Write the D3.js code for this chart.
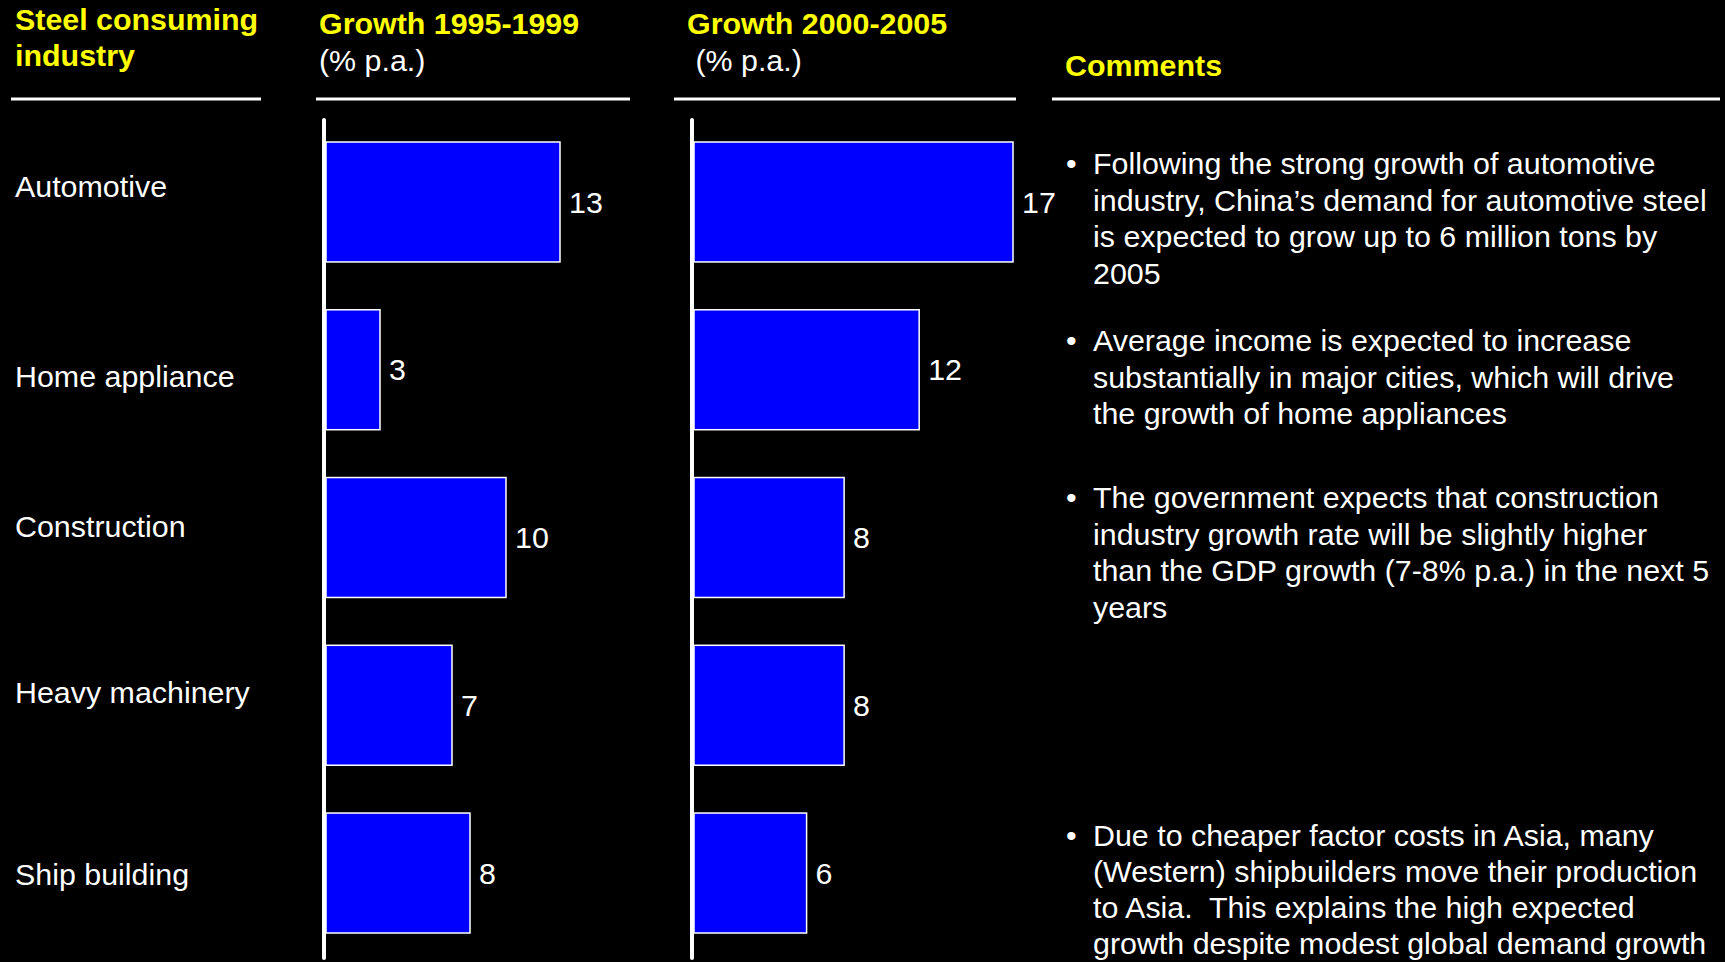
<!DOCTYPE html>
<html>
<head>
<meta charset="utf-8">
<script src="https://cdn.jsdelivr.net/npm/d3@7"></script>
<style>
  html, body { margin: 0; padding: 0; background: #000; }
  svg { display: block; }
  text { font-family: "Liberation Sans", Arial, sans-serif; white-space: pre; }
</style>
</head>
<body>
<svg id="chart" width="1725" height="962"></svg>
<script>
// ---- data ----
const categories = ["Automotive", "Home appliance", "Construction", "Heavy machinery", "Ship building"];
const growth1995_1999 = [13, 3, 10, 7, 8];
const growth2000_2005 = [17, 12, 8, 8, 6];
const headerIndustry = ["Steel consuming", "industry"];
const headerPeriod1 = "Growth 1995-1999";
const headerPeriod2 = "Growth 2000-2005";
const headerUnit1 = "(% p.a.)";
const headerUnit2 = " (% p.a.)";
const headerComments = "Comments";
const comments = [
  ["Following the strong growth of automotive",
   "industry, China\u2019s demand for automotive steel",
   "is expected to grow up to 6 million tons by",
   "2005"],
  ["Average income is expected to increase",
   "substantially in major cities, which will drive",
   "the growth of home appliances"],
  ["The government expects that construction",
   "industry growth rate will be slightly higher",
   "than the GDP growth (7-8% p.a.) in the next 5",
   "years"],
  ["Due to cheaper factor costs in Asia, many",
   "(Western) shipbuilders move their production",
   "to Asia.  This explains the high expected",
   "growth despite modest global demand growth"]
];

// ---- layout ----
const YELLOW = "#FFFF00", WHITE = "#FFFFFF", BLUE = "#0000FF";
const FS = 30.4;
const svg = d3.select("#chart");

const y = d3.scaleBand()
  .domain(categories)
  .range([142, 933])
  .paddingInner(0.285)
  .paddingOuter(0);

const x1 = d3.scaleLinear().domain([0, 13]).range([326, 560]);
const x2 = d3.scaleLinear().domain([0, 17]).range([694, 1013]);

// baseline offsets of the row labels from their band centres
const rowLabelDy = [-5, 17, -0.5, -2, 12];
// first-line baselines of the comment blocks and their line spacing
const commentBaselines = [174, 351, 508, 846];
const commentLeading = [36.5, 36.5, 36.5, 36];

// ---- headers ----
svg.append("g").selectAll("text")
  .data(headerIndustry)
  .join("text")
  .attr("x", 15).attr("y", (d, i) => 30 + i * 36)
  .attr("fill", YELLOW).attr("font-weight", "bold").attr("font-size", FS)
  .text(d => d);

const headerDefs = [
  { title: headerPeriod1, unit: headerUnit1, x: 319 },
  { title: headerPeriod2, unit: headerUnit2, x: 687 }
];
headerDefs.forEach(h => {
  svg.append("text").attr("x", h.x).attr("y", 34)
    .attr("fill", YELLOW).attr("font-weight", "bold").attr("font-size", FS)
    .text(h.title);
  svg.append("text").attr("x", h.x).attr("y", 71)
    .attr("fill", WHITE).attr("font-size", FS)
    .text(h.unit);
});
svg.append("text").attr("x", 1065).attr("y", 76)
  .attr("fill", YELLOW).attr("font-weight", "bold").attr("font-size", FS)
  .text(headerComments);

// header rules
const rules = [[11, 261], [316, 630], [674, 1016], [1052, 1720]];
svg.append("g").selectAll("line")
  .data(rules)
  .join("line")
  .attr("x1", d => d[0]).attr("x2", d => d[1])
  .attr("y1", 99).attr("y2", 99)
  .attr("stroke", WHITE).attr("stroke-width", 3);

// ---- row labels ----
svg.append("g").selectAll("text")
  .data(categories)
  .join("text")
  .attr("x", 15)
  .attr("y", (d, i) => y(d) + y.bandwidth() / 2 + rowLabelDy[i])
  .attr("fill", WHITE).attr("font-size", FS)
  .text(d => d);

// ---- bar panels ----
function panel(values, x) {
  const g = svg.append("g");
  const data = categories.map((c, i) => ({ c, v: values[i] }));
  g.selectAll("rect")
    .data(data)
    .join("rect")
    .attr("x", x(0))
    .attr("y", d => y(d.c))
    .attr("width", d => x(d.v) - x(0))
    .attr("height", y.bandwidth())
    .attr("fill", BLUE)
    .attr("stroke", WHITE)
    .attr("stroke-width", 1.5);
  g.selectAll("text")
    .data(data)
    .join("text")
    .attr("x", d => x(d.v) + 9)
    .attr("y", d => y(d.c) + y.bandwidth() / 2)
    .attr("dy", "0.35em")
    .attr("fill", WHITE).attr("font-size", FS)
    .text(d => d.v);
  // baseline axis
  g.append("line")
    .attr("x1", x(0) - 2).attr("x2", x(0) - 2)
    .attr("y1", 120).attr("y2", 958)
    .attr("stroke", WHITE).attr("stroke-width", 4)
    .attr("stroke-linecap", "round");
}
panel(growth1995_1999, x1);
panel(growth2000_2005, x2);

// ---- comments ----
const cg = svg.append("g");
comments.forEach((lines, k) => {
  const b = commentBaselines[k];
  cg.append("text").attr("x", 1066).attr("y", b)
    .attr("fill", WHITE).attr("font-size", FS).text("\u2022");
  cg.selectAll(null)
    .data(lines)
    .join("text")
    .attr("x", 1093)
    .attr("y", (d, i) => b + i * commentLeading[k])
    .attr("fill", WHITE).attr("font-size", FS)
    .text(d => d);
});
</script>
</body>
</html>
